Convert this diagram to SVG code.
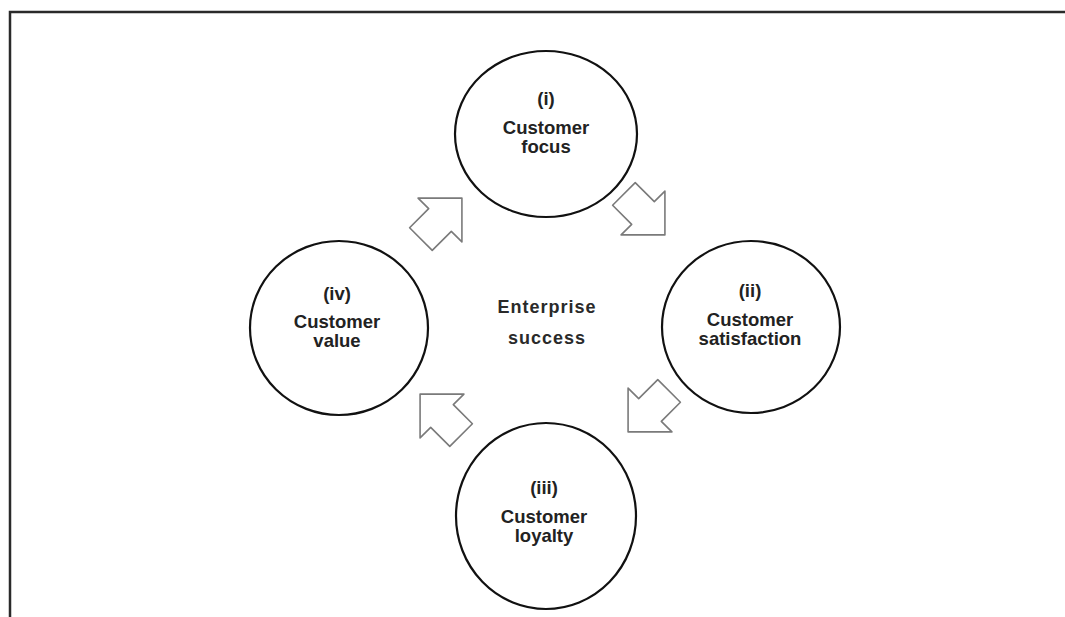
<svg xmlns="http://www.w3.org/2000/svg" width="1065" height="617" viewBox="0 0 1065 617">
  <style>
    .frame { stroke: #2a2a2a; stroke-width: 2.5; fill: none; }
    .node { fill: #ffffff; stroke: #111111; stroke-width: 2.2; }
    .lbl { font-family: "Liberation Sans", Arial, sans-serif; font-weight: bold; font-size: 18.5px; fill: #222222; text-anchor: middle; }
    .center { font-family: "Liberation Sans", Arial, sans-serif; font-weight: bold; font-size: 18px; fill: #2a2a2a; text-anchor: middle; letter-spacing: 1px; }
    .arrow { fill: #ffffff; stroke: #7a7a7a; stroke-width: 1.6; stroke-linejoin: round; }
  </style>
  <defs>
    <polygon id="blockArrow" points="31,0 0,31 0,16 -27,16 -27,-16 0,-16 0,-31"/>
  </defs>
  <rect width="1065" height="617" fill="#ffffff"/>
  <path class="frame" d="M10,617 L10,12 L1065,12"/>

  <g id="connectors">
    <use href="#blockArrow" class="arrow" transform="translate(440,220) rotate(-45)"/>
    <use href="#blockArrow" class="arrow" transform="translate(643,213) rotate(45)"/>
    <use href="#blockArrow" class="arrow" transform="translate(650,410) rotate(135)"/>
    <use href="#blockArrow" class="arrow" transform="translate(442,416) rotate(-135)"/>
  </g>

  <g id="node-focus">
    <ellipse class="node" cx="546" cy="134" rx="91" ry="83"/>
    <text class="lbl" x="546" y="105">(i)</text>
    <text class="lbl" x="546" y="134">Customer</text>
    <text class="lbl" x="546" y="153">focus</text>
  </g>

  <g id="node-satisfaction">
    <ellipse class="node" cx="751" cy="327" rx="89" ry="86"/>
    <text class="lbl" x="750" y="297">(ii)</text>
    <text class="lbl" x="750" y="326">Customer</text>
    <text class="lbl" x="750" y="345">satisfaction</text>
  </g>

  <g id="node-loyalty">
    <ellipse class="node" cx="546" cy="516" rx="90" ry="93"/>
    <text class="lbl" x="544" y="494">(iii)</text>
    <text class="lbl" x="544" y="523">Customer</text>
    <text class="lbl" x="544" y="542">loyalty</text>
  </g>

  <g id="node-value">
    <ellipse class="node" cx="339" cy="328" rx="89" ry="87"/>
    <text class="lbl" x="337" y="300">(iv)</text>
    <text class="lbl" x="337" y="328">Customer</text>
    <text class="lbl" x="337" y="347">value</text>
  </g>

  <g id="node-center">
    <text class="center" x="547" y="313">Enterprise</text>
    <text class="center" x="547" y="344">success</text>
  </g>
</svg>
